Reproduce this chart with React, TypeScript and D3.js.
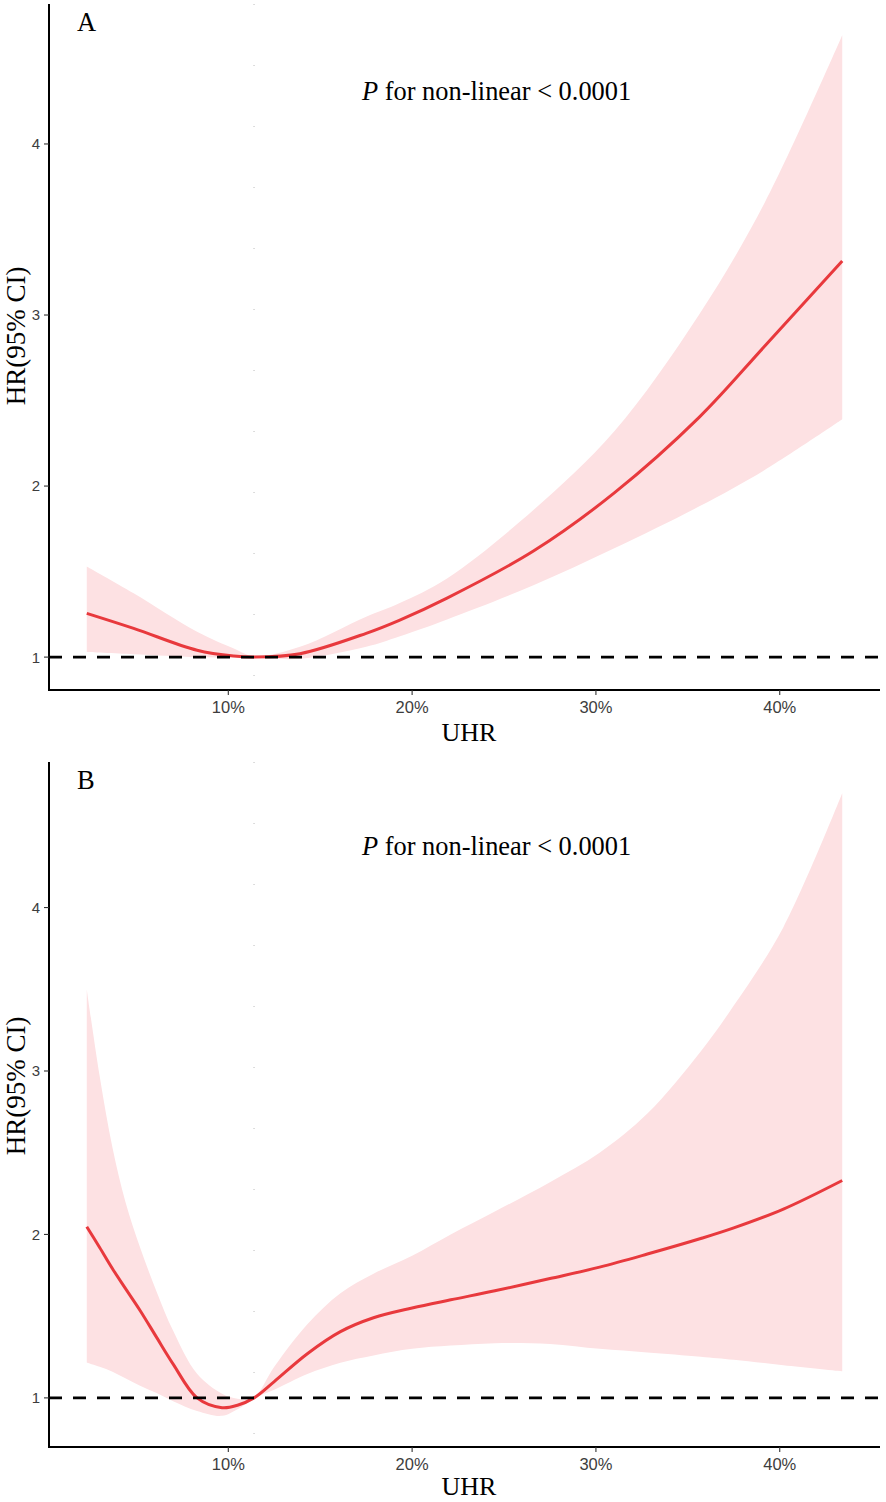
import * as d3 from 'd3'

// UHR (%) values and fitted HR with 95% CI
const uhrA = [2.3, 4.85, 8.3, 10.3, 11.4, 13.9, 17.5, 19.3, 21.9, 26.6, 31.0, 35.6, 39.2, 43.4]
const hrA = [1.256, 1.168, 1.04, 1.006, 1.0, 1.02, 1.139, 1.215, 1.345, 1.62, 1.96, 2.4, 2.82, 3.316]
const lowerA = [1.03, 1.017, 1.0, 0.997, 0.997, 0.99, 1.06, 1.12, 1.22, 1.42, 1.636, 1.88, 2.095, 2.39]
const upperA = [1.53, 1.373, 1.148, 1.05, 1.005, 1.06, 1.236, 1.315, 1.46, 1.86, 2.32, 3.0, 3.66, 4.636]

const uhrB = [2.3, 3.0, 3.7, 4.4, 5.2, 6.1, 7.0, 8.3, 9.66, 10.5, 11.4, 12.5, 14.3, 16.1, 17.9, 20.0, 22.1, 24.5, 27.5, 30.2, 32.8, 35.7, 37.5, 40.2, 43.4]
const hrB = [2.047, 1.92, 1.79, 1.67, 1.535, 1.37, 1.207, 1.0, 0.94, 0.955, 1.0, 1.1, 1.27, 1.405, 1.49, 1.55, 1.6, 1.655, 1.73, 1.8, 1.88, 1.975, 2.04, 2.155, 2.33]
const lowerB = [1.217, 1.19, 1.16, 1.12, 1.075, 1.03, 0.98, 0.92, 0.89, 0.93, 0.997, 1.05, 1.146, 1.215, 1.26, 1.3, 1.32, 1.335, 1.33, 1.3, 1.278, 1.252, 1.233, 1.2, 1.163]
const upperB = [3.5, 2.97, 2.53, 2.2, 1.92, 1.65, 1.41, 1.147, 1.025, 0.995, 1.005, 1.19, 1.45, 1.64, 1.76, 1.87, 2.0, 2.14, 2.32, 2.5, 2.74, 3.12, 3.4, 3.88, 4.7]

const xTicks = [10, 20, 30, 40]
const yTicks = [1, 2, 3, 4]
const refUHR = 11.4
const pText = ' for non-linear < 0.0001'

const serif = '"Liberation Serif", "Times New Roman", serif'
const sans = '"Liberation Sans", Arial, sans-serif'

type PanelProps = {
  label: string
  uhr: number[]
  hr: number[]
  lower: number[]
  upper: number[]
  top: number
  bottom: number
  yTitleY: number
  pBaseline: number
  xTitleGap: number
}

const left = 49
const right = 880

const Panel = ({ label, uhr, hr, lower, upper, top, bottom, yTitleY, pBaseline, xTitleGap }: PanelProps) => {
  const [xMin, xMax] = d3.extent(uhr) as [number, number]
  const xPad = (xMax - xMin) * 0.05
  const x = d3.scaleLinear().domain([xMin - xPad, xMax + xPad]).range([left, right])

  const yMin = d3.min(lower) as number
  const yMax = d3.max(upper) as number
  const yPad = (yMax - yMin) * 0.05
  const y = d3.scaleLinear().domain([yMin - yPad, yMax + yPad]).range([bottom, top])

  const rows = uhr.map((u, i) => ({ u, hr: hr[i], lo: lower[i], hi: upper[i] }))
  const curve = d3.curveCatmullRom.alpha(0.5)

  const band = d3
    .area<(typeof rows)[number]>()
    .x((d) => x(d.u))
    .y0((d) => y(d.lo))
    .y1((d) => y(d.hi))
    .curve(curve)

  const line = d3
    .line<(typeof rows)[number]>()
    .x((d) => x(d.u))
    .y((d) => y(d.hr))
    .curve(curve)

  return (
    <g>
      <path d={band(rows) ?? ''} fill="#fde1e3" />
      <line
        x1={x(refUHR)}
        x2={x(refUHR)}
        y1={top}
        y2={bottom}
        stroke="#222"
        strokeWidth={0.6}
        strokeDasharray="1 60"
        opacity={0.5}
      />
      <path d={line(rows) ?? ''} fill="none" stroke="#e8393d" strokeWidth={3} />
      <line x1={left} x2={right} y1={y(1)} y2={y(1)} stroke="#000" strokeWidth={2.6} strokeDasharray="13 11" />

      {/* axes */}
      <line x1={left} x2={left} y1={top} y2={bottom + 1} stroke="#000" strokeWidth={2} />
      <line x1={left - 1} x2={right} y1={bottom} y2={bottom} stroke="#000" strokeWidth={2} />

      {yTicks.map((t) => (
        <g key={t}>
          <line x1={left - 5} x2={left} y1={y(t)} y2={y(t)} stroke="#333" strokeWidth={1.1} />
          <text x={left - 9} y={y(t)} dy="0.36em" textAnchor="end" fontFamily={sans} fontSize={15} fill="#3d3d3d">
            {t}
          </text>
        </g>
      ))}
      {xTicks.map((t) => (
        <g key={t}>
          <line x1={x(t)} x2={x(t)} y1={bottom} y2={bottom + 5} stroke="#333" strokeWidth={1.1} />
          <text x={x(t)} y={bottom + 22.5} textAnchor="middle" fontFamily={sans} fontSize={16.5} fill="#3d3d3d">
            {t}%
          </text>
        </g>
      ))}

      <text x={469} y={bottom + xTitleGap} textAnchor="middle" fontFamily={serif} fontSize={26} fill="#000">
        UHR
      </text>
      <text
        transform={`translate(25,${yTitleY}) rotate(-90)`}
        textAnchor="middle"
        fontFamily={serif}
        fontSize={27}
        fill="#000"
      >
        HR(95% CI)
      </text>

      <text x={77} y={top + 27} fontFamily={serif} fontSize={26.5} fill="#000">
        {label}
      </text>
      <text x={362} y={pBaseline} fontFamily={serif} fontSize={26.4} fill="#000">
        <tspan fontStyle="italic">P</tspan>
        <tspan>{pText}</tspan>
      </text>
    </g>
  )
}

export default function App() {
  return (
    <svg
      width={886}
      height={1502}
      viewBox="0 0 886 1502"
      style={{ position: 'absolute', left: 0, top: 0, background: '#fff' }}
    >
      <rect width={886} height={1502} fill="#fff" />
      <Panel label="A" uhr={uhrA} hr={hrA} lower={lowerA} upper={upperA} top={4} bottom={690} yTitleY={336} pBaseline={100} xTitleGap={51} />
      <Panel label="B" uhr={uhrB} hr={hrB} lower={lowerB} upper={upperB} top={762} bottom={1447} yTitleY={1086} pBaseline={855} xTitleGap={48} />
    </svg>
  )
}
